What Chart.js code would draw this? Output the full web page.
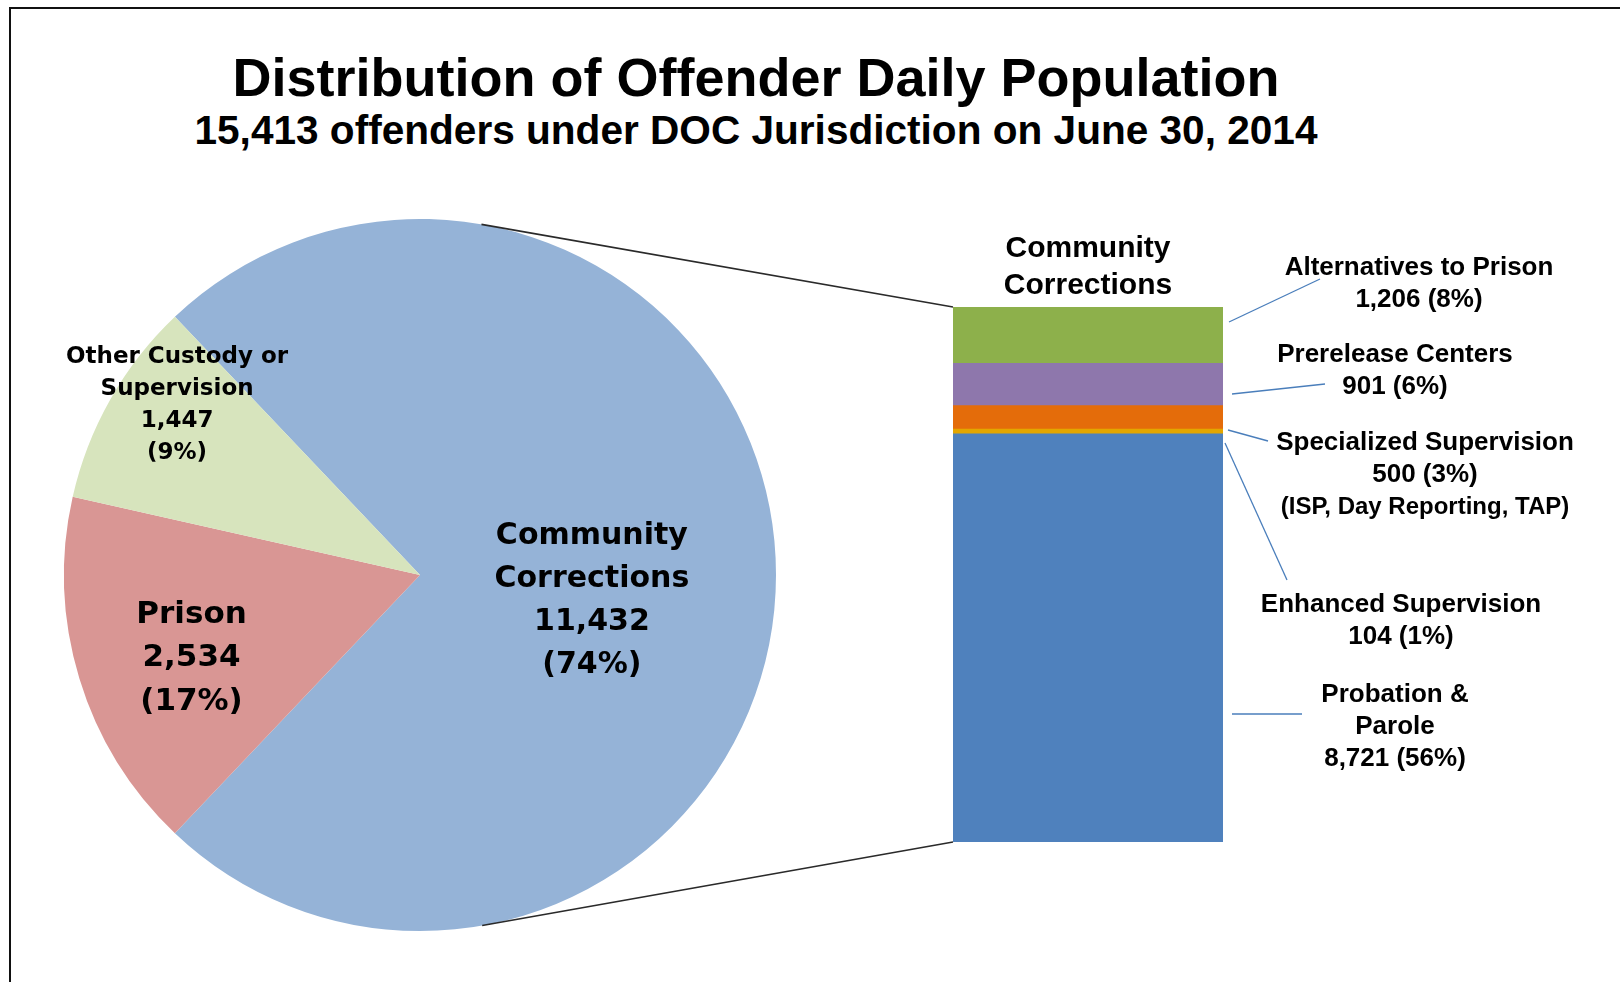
<!DOCTYPE html>
<html lang="en">
<head>
<meta charset="utf-8">
<title>Distribution of Offender Daily Population</title>
<script src="https://cdn.jsdelivr.net/npm/chart.js@4.4.0/dist/chart.umd.min.js"></script>
<style>
  html, body { margin: 0; padding: 0; background: #fff; }
  #lienzo { position: relative; width: 1620px; height: 982px; overflow: hidden; }
  #marco { position: absolute; left: 9px; top: 7px; right: -10px; bottom: -10px;
           border-left: 2px solid #111; border-top: 2px solid #111; }
  .titulo { position: absolute; left: 0; width: 1512px; text-align: center; color: #000;
            font-family: 'Liberation Sans', Arial, sans-serif; font-weight: bold; white-space: nowrap; }
  #t1 { top: 50px; font-size: 54px; line-height: 54px; }
  #t2 { top: 110px; font-size: 40.6px; line-height: 40px; }
  canvas { position: absolute; left: 0; top: 0; }
</style>
</head>
<body>
<div id="lienzo">
  <div id="marco"></div>
  <div class="titulo" id="t1">Distribution of Offender Daily Population</div>
  <div class="titulo" id="t2">15,413 offenders under DOC Jurisdiction on June 30, 2014</div>
  <canvas id="pastel" width="1620" height="982"></canvas>
  <canvas id="barra" width="1620" height="982"></canvas>
</div>

<script>
/* ============================================
   DATOS
   ============================================ */

// Pastel: población total por tipo de custodia
const categoriasPastel = [['Community', 'Corrections'], ['Prison'], ['Other Custody or', 'Supervision']];
const valoresPastel = [11432, 2534, 1447];
const porcentajesPastel = ['74%', '17%', '9%'];
const coloresPastel = ['#95B3D7', '#D99694', '#D7E4BD'];

// Barra apilada: desglose de Community Corrections (de abajo hacia arriba)
const tituloBarra = ['Community', 'Corrections'];
const categoriasBarra = [['Probation &', 'Parole'], ['Enhanced Supervision'], ['Specialized Supervision'], ['Prerelease Centers'], ['Alternatives to Prison']];
const valoresBarra = [8721, 104, 500, 901, 1206];
const porcentajesBarra = ['56%', '1%', '3%', '6%', '8%'];
const notasBarra = ['', '', '(ISP, Day Reporting, TAP)', '', ''];
const coloresBarra = ['#4F81BD', '#E3A600', '#E46C0A', '#8E77AC', '#8DB04B'];

/* ============================================
   DISEÑO (posiciones de etiquetas, tamaños)
   ============================================ */
const DISENO = {
  pastel: { izq: 64, arriba: 219, lado: 712 },
  barra: { izq: 953, der: 1223, arriba: 307, abajo: 842 },
  fuentePastel: "'DejaVu Sans', Verdana, sans-serif",
  fuenteBarra: "'Liberation Sans', Arial, sans-serif",
  // fracción del radio y giro (grados) respecto al ángulo medio del sector
  etiquetasPastel: [
    { frac: 0.487, giro: 7.5, fuente: 30, interlineado: 43 },
    { frac: 0.68, giro: -2.4, fuente: 31, interlineado: 43.5 },
    { frac: 0.836, giro: 5.7, fuente: 23, interlineado: 32 },
  ],
  // mismo orden que valoresBarra: centro x, primera línea base, línea guía
  etiquetasBarra: [
    { x: 1395, base: 702, guia: [9, 714, 1302, 714] },
    { x: 1401, base: 612, guia: [2, 443, 1287, 580] },
    { x: 1425, base: 450, guia: [5, 430, 1268, 441] },
    { x: 1395, base: 362, guia: [9, 394, 1325, 384] },
    { x: 1419, base: 275, guia: [6, 322, 1320, 279] },
  ],
  interlineadoBarra: 32,
};

const formatear = (n) => n.toLocaleString('en-US');
const totalPastel = valoresPastel.reduce((s, v) => s + v, 0);
const totalBarra = valoresBarra.reduce((s, v) => s + v, 0);

/* ============================================
   PLUGIN: etiquetas dentro del pastel
   ============================================ */
const etiquetasPastel = {
  id: 'etiquetasPastel',
  afterDatasetsDraw(chart) {
    const ctx = chart.ctx;
    const arcos = chart.getDatasetMeta(0).data;
    ctx.save();
    ctx.fillStyle = '#000';
    ctx.textAlign = 'center';
    ctx.textBaseline = 'alphabetic';
    arcos.forEach((arco, i) => {
      const conf = DISENO.etiquetasPastel[i];
      const medio = (arco.startAngle + arco.endAngle) / 2 + conf.giro * Math.PI / 180;
      const cx = arco.x + Math.cos(medio) * arco.outerRadius * conf.frac;
      const cy = arco.y + Math.sin(medio) * arco.outerRadius * conf.frac;
      const lineas = [...categoriasPastel[i], formatear(valoresPastel[i]), `(${porcentajesPastel[i]})`];
      ctx.font = `bold ${conf.fuente}px ${DISENO.fuentePastel}`;
      const mitadMayus = conf.fuente * 0.365;
      lineas.forEach((txt, j) => {
        const y = cy + (j - (lineas.length - 1) / 2) * conf.interlineado + mitadMayus;
        ctx.fillText(txt, cx, y);
      });
    });
    ctx.restore();
  },
};

/* ============================================
   PLUGIN: líneas de unión, etiquetas y guías de la barra
   ============================================ */
const anotacionesBarra = {
  id: 'anotacionesBarra',
  afterDatasetsDraw(chart) {
    const ctx = chart.ctx;
    const base = chart.getDatasetMeta(0).data[0];
    const tope = chart.getDatasetMeta(valoresBarra.length - 1).data[0];
    const izq = base.x - base.width / 2;
    const der = base.x + base.width / 2;
    const yArriba = tope.y;
    const yAbajo = base.base;

    // Líneas tangentes desde el pastel hasta las esquinas de la barra
    const arco = graficoPastel.getDatasetMeta(0).data[0];
    const tangente = (px, py, signo) => {
      const dx = px - arco.x, dy = py - arco.y;
      const d = Math.hypot(dx, dy);
      const ang = Math.atan2(dy, dx) + signo * Math.acos(arco.outerRadius / d);
      return [arco.x + Math.cos(ang) * arco.outerRadius, arco.y + Math.sin(ang) * arco.outerRadius];
    };
    ctx.save();
    ctx.strokeStyle = '#2a2a2a';
    ctx.lineWidth = 1.6;
    [[izq, yArriba, -1], [izq, yAbajo, 1]].forEach(([px, py, s]) => {
      const [tx, ty] = tangente(px, py, s);
      ctx.beginPath();
      ctx.moveTo(tx, ty);
      ctx.lineTo(px, py);
      ctx.stroke();
    });

    // Título sobre la barra
    ctx.fillStyle = '#000';
    ctx.textAlign = 'center';
    ctx.font = `bold 30px ${DISENO.fuenteBarra}`;
    tituloBarra.forEach((txt, j) => ctx.fillText(txt, (izq + der) / 2, yArriba - 50 + j * 37));

    // Etiquetas de cada segmento con su línea guía
    DISENO.etiquetasBarra.forEach((conf, i) => {
      const [gap, y0, x1, y1] = conf.guia;
      ctx.strokeStyle = '#4A7EBB';
      ctx.lineWidth = 1.3;
      ctx.beginPath();
      ctx.moveTo(der + gap, y0);
      ctx.lineTo(x1, y1);
      ctx.stroke();

      const lineas = [...categoriasBarra[i], `${formatear(valoresBarra[i])} (${porcentajesBarra[i]})`];
      ctx.fillStyle = '#000';
      ctx.font = `bold 26px ${DISENO.fuenteBarra}`;
      lineas.forEach((txt, j) => ctx.fillText(txt, conf.x, conf.base + j * DISENO.interlineadoBarra));
      if (notasBarra[i]) {
        ctx.font = `bold 24px ${DISENO.fuenteBarra}`;
        ctx.fillText(notasBarra[i], conf.x, conf.base + lineas.length * DISENO.interlineadoBarra);
      }
    });
    ctx.restore();
  },
};

/* ============================================
   GRÁFICO 1: Pastel
   ============================================ */
const P = DISENO.pastel;
const giroPastel = 90 - (valoresPastel[0] / totalPastel) * 180;

const graficoPastel = new Chart(document.getElementById('pastel'), {
  type: 'pie',
  data: {
    labels: categoriasPastel.map(l => l.join(' ')),
    datasets: [{
      data: valoresPastel,
      backgroundColor: coloresPastel,
      borderWidth: 0,
      hoverOffset: 0,
    }],
  },
  options: {
    responsive: false,
    devicePixelRatio: 1,
    animation: false,
    events: [],
    rotation: giroPastel,
    layout: {
      padding: { left: P.izq, top: P.arriba, right: 1620 - P.izq - P.lado, bottom: 982 - P.arriba - P.lado },
    },
    plugins: { legend: { display: false }, tooltip: { enabled: false } },
  },
  plugins: [etiquetasPastel],
});

/* ============================================
   GRÁFICO 2: Barra apilada
   ============================================ */
const B = DISENO.barra;

new Chart(document.getElementById('barra'), {
  type: 'bar',
  data: {
    labels: ['Community Corrections'],
    datasets: valoresBarra.map((v, i) => ({
      label: categoriasBarra[i].join(' '),
      data: [v],
      backgroundColor: coloresBarra[i],
      borderWidth: 0,
      categoryPercentage: 1,
      barPercentage: 1,
    })),
  },
  options: {
    responsive: false,
    devicePixelRatio: 1,
    animation: false,
    events: [],
    layout: {
      padding: { left: B.izq, right: 1620 - B.der, top: B.arriba, bottom: 982 - B.abajo },
    },
    scales: {
      x: { stacked: true, display: false },
      y: { stacked: true, display: false, min: 0, max: totalBarra },
    },
    plugins: { legend: { display: false }, tooltip: { enabled: false } },
  },
  plugins: [anotacionesBarra],
});
</script>
</body>
</html>
